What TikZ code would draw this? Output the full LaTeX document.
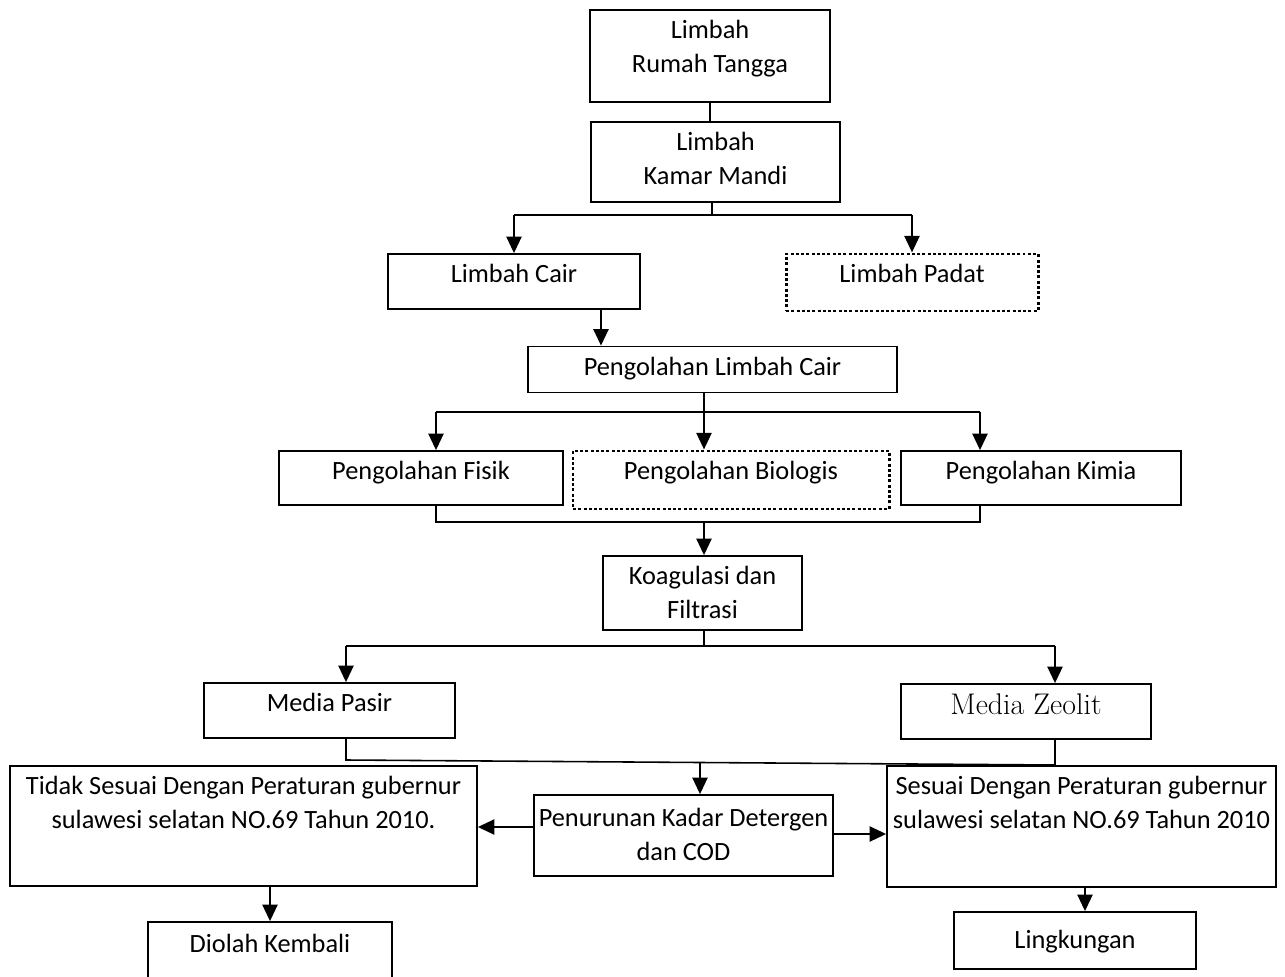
\documentclass[tikz,border=0pt]{standalone}
\usepackage{fontspec}
\newfontfamily\boxfont{Carlito}
\usetikzlibrary{arrows.meta}

\tikzset{
  box/.style={draw, line width=0.9pt, inner sep=0pt},
  dotbox/.style={draw, line width=1.7pt, dash pattern=on 1.7pt off 1.3pt, inner sep=0pt},
  sz/.style 2 args={minimum width=#1*0.02cm, minimum height=#2*0.02cm},
  txt/.style={anchor=north, align=center, yshift=-0.1cm, font=\boxfont\fontsize{15}{19}\selectfont},
  link/.style={line width=0.9pt},
  arr/.style={line width=1.6pt, -{Triangle[length=9.5pt,width=8.5pt]}}
}

\begin{document}
\begin{tikzpicture}[x=0.02cm, y=-0.02cm]
\path[fill=white] (0,0) rectangle (1285,977);
\useasboundingbox (0,0) rectangle (1285,977);

\node[box, sz={240}{92}, label={[txt]north:{Limbah\\Rumah Tangga}}] (rumah) at (710,56) {};
\node[box, sz={249}{80}, label={[txt]north:{Limbah\\Kamar Mandi}}] (kamar) at (715.5,162) {};

\node[box, sz={252}{55}, label={[txt]north:{Limbah Cair}}] (cair) at (514,281.5) {};
\node[dotbox, sz={252}{57}, label={[txt]north:{Limbah Padat}}] (padat) at (912,282.5) {};

\node[box, sz={369}{46}, label={[txt]north:{Pengolahan Limbah Cair}}] (plc) at (712.5,369.5) {};

\node[box, sz={284}{54}, label={[txt]north:{Pengolahan Fisik}}] (fisik) at (421,478) {};
\node[dotbox, sz={316}{58}, label={[txt]north:{Pengolahan Biologis}}] (bio) at (731,480) {};
\node[box, sz={280}{54}, label={[txt]north:{Pengolahan Kimia}}] (kimia) at (1041,478) {};

\node[box, sz={199}{74}, label={[txt]north:{Koagulasi dan\\Filtrasi}}] (koag) at (702.5,593) {};

\node[box, sz={251}{55}, label={[txt]north:{Media Pasir}}] (pasir) at (329.5,710.5) {};
\node[box, sz={250}{55}, label={[txt, yshift=0.02cm, font=\fontsize{17}{20}\selectfont]north:{Media Zeolit}}] (zeolit) at (1026,711.5) {};

\node[box, sz={467}{120}, label={[txt]north:{Tidak Sesuai Dengan Peraturan gubernur\\sulawesi selatan NO.69 Tahun 2010.}}] (tidak) at (243.5,826) {};
\node[box, sz={299}{81}, label={[txt, yshift=-0.06cm]north:{Penurunan Kadar Detergen\\dan COD}}] (pen) at (683.5,835.5) {};
\node[box, sz={389}{121}, label={[txt]north:{Sesuai Dengan Peraturan gubernur\\sulawesi selatan NO.69 Tahun 2010}}] (sesuai) at (1081.5,826.5) {};

\node[box, sz={244}{60}, label={[txt, yshift=-0.04cm]north:{Diolah Kembali}}] (diolah) at (270,952) {};
\node[box, sz={242}{57}, label={[txt, yshift=-0.16cm]north:{Lingkungan}}] (ling) at (1075,940.5) {};

% cabang
\coordinate (b1) at (712,215);
\coordinate (d1) at ([xshift=1.74cm]cair.south);
\coordinate (b2l) at (436,412);
\coordinate (b2) at (704,412);
\coordinate (b2r) at (980,412);
\coordinate (b3) at (704,522);
\coordinate (b4l) at (346,646);
\coordinate (b4) at (704,646);
\coordinate (b4r) at (1055,646);
\coordinate (b5l) at (346,760);
\coordinate (b5) at (700,762);
\coordinate (b5r) at (1055,765);
\coordinate (d2) at ([xshift=0.2cm]ling.north);

\draw[link] (rumah.south) -- (rumah.south |- kamar.north);
\draw[link] (b1 |- kamar.south) -- (b1);
\draw[link] (cair.north |- b1) -- (padat.north |- b1);
\draw[arr] (cair.north |- b1) -- (cair.north);
\draw[arr] (padat.north |- b1) -- (padat.north);

\draw[arr] (d1) -- (d1 |- plc.north);

\draw[link] (b2 |- plc.south) -- (b2);
\draw[link] (b2l) -- (b2r);
\draw[arr] (b2l) -- (b2l |- fisik.north);
\draw[arr] (b2) -- (b2 |- bio.north);
\draw[arr] (b2r) -- (b2r |- kimia.north);

\draw[link] (b2l |- fisik.south) |- (b3) -| (b2r |- kimia.south);
\draw[arr] (b3) -- (b3 |- koag.north);

\draw[link] (b4 |- koag.south) -- (b4);
\draw[link] (b4l) -- (b4r);
\draw[arr] (b4l) -- (b4l |- pasir.north);
\draw[arr] (b4r) -- (b4r |- zeolit.north);

\draw[link] (b4l |- pasir.south) -- (b5l) -- (b5r) -- (b4r |- zeolit.south);
\draw[arr] (b5) -- (b5 |- pen.north);

\draw[arr] ([yshift=0.17cm]pen.west) -- ([yshift=0.17cm]pen.west -| tidak.east);
\draw[arr] ([yshift=0.03cm]pen.east) -- ([yshift=0.03cm]pen.east -| sesuai.west);

\draw[arr] (diolah.north |- tidak.south) -- (diolah.north);
\draw[arr] (d2 |- sesuai.south) -- (d2);

\end{tikzpicture}
\end{document}
